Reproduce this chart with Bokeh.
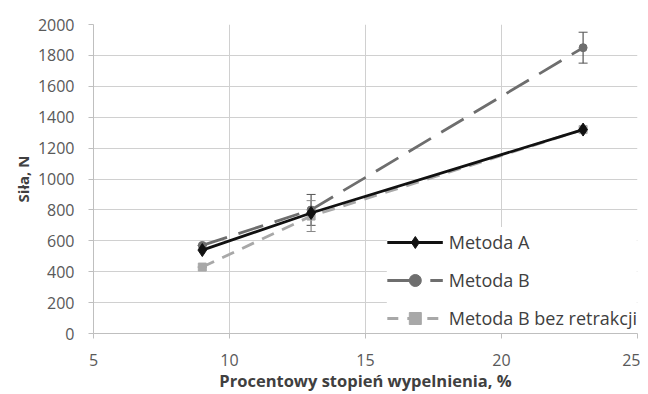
from bokeh.plotting import figure
from bokeh.models import ColumnDataSource, Whisker, Legend, LegendItem, Range1d, FixedTicker
from bokeh.embed import file_html
from bokeh.resources import INLINE

x_vals = [9, 13, 23]
metoda_a = [540, 780, 1320]
metoda_b = [570, 800, 1850]
metoda_b_err = [0, 100, 100]
metoda_b_bez = [430, 760, 1320]
metoda_b_bez_err = [0, 100, 0]

x_ticks = [5, 10, 15, 20, 25]
y_ticks = [0, 200, 400, 600, 800, 1000, 1200, 1400, 1600, 1800, 2000]

FONT = "Open Sans"

p = figure(width=640, height=394, output_backend="svg", toolbar_location=None,
           x_range=Range1d(5, 25), y_range=Range1d(0, 2000),
           min_border_left=93, min_border_right=3, min_border_top=24, min_border_bottom=59)
p.outline_line_color = None
p.background_fill_color = "white"

for ax in (p.xaxis[0], p.yaxis[0]):
    ax.axis_line_color = "#bfbfbf"
    ax.major_tick_line_color = "#bfbfbf"
    ax.major_tick_out = 5
    ax.major_tick_in = 0
    ax.minor_tick_line_color = None
    ax.major_label_text_font = FONT
    ax.major_label_text_font_size = "16px"
    ax.major_label_text_color = "#595959"
    ax.axis_label_text_font = FONT
    ax.axis_label_text_font_style = "bold"
    ax.axis_label_text_color = "#404040"

p.xaxis.axis_label_text_font_size = "16.5px"
p.yaxis.axis_label_text_font_size = "15px"
p.xaxis.ticker = FixedTicker(ticks=x_ticks)
p.yaxis.ticker = FixedTicker(ticks=y_ticks)
p.xaxis.axis_label = "Procentowy stopień wypelnienia, %"
p.yaxis.axis_label = "Siła, N"
p.xaxis.major_label_standoff = 15
p.xaxis.axis_label_standoff = 0
p.yaxis.major_label_standoff = 14
p.yaxis.axis_label_standoff = 2

p.xgrid.ticker = FixedTicker(ticks=x_ticks)
p.ygrid.ticker = FixedTicker(ticks=y_ticks)
p.grid.grid_line_color = "#d0d0d0"
p.grid.grid_line_width = 1

src_a = ColumnDataSource(dict(x=x_vals, y=metoda_a))
src_b = ColumnDataSource(dict(x=x_vals, y=metoda_b,
                              lo=[v - e for v, e in zip(metoda_b, metoda_b_err)],
                              hi=[v + e for v, e in zip(metoda_b, metoda_b_err)]))
src_c = ColumnDataSource(dict(x=x_vals, y=metoda_b_bez,
                              lo=[v - e for v, e in zip(metoda_b_bez, metoda_b_bez_err)],
                              hi=[v + e for v, e in zip(metoda_b_bez, metoda_b_bez_err)]))

c_a = "#111111"
c_b = "#6e6e6e"
c_c = "#a8a8a8"

lc = p.line("x", "y", source=src_c, line_color=c_c, line_width=2.8, line_dash="13 9")
sc = p.scatter("x", "y", source=src_c, marker="square", size=8, fill_color=c_c, line_color=c_c)
lb = p.line("x", "y", source=src_b, line_color=c_b, line_width=2.8, line_dash="26 12")
sb = p.scatter("x", "y", source=src_b, marker="circle", size=8, fill_color=c_b, line_color=c_b)
la = p.line("x", "y", source=src_a, line_color=c_a, line_width=2.8)
sa = p.scatter("x", "y", source=src_a, marker="diamond", size=13, fill_color=c_a, line_color=c_a)

wb = Whisker(source=src_b, base="x", upper="hi", lower="lo", line_color="#555555", line_width=1.2)
wb.upper_head.line_color = "#555555"
wb.lower_head.line_color = "#555555"
wb.upper_head.size = 9
wb.lower_head.size = 9
p.add_layout(wb)
wc = Whisker(source=src_c, base="x", upper="hi", lower="lo", line_color="#888888", line_width=1.2)
wc.upper_head.line_color = "#888888"
wc.lower_head.line_color = "#888888"
wc.upper_head.size = 9
wc.lower_head.size = 9
p.add_layout(wc)

# legend-only renderers (placed outside the visible range) with smaller markers
off_x = [-10, -9]
off_y = [-100, -100]
la_l = p.line(off_x, off_y, line_color=c_a, line_width=2.8)
sa_l = p.scatter(off_x, off_y, marker="diamond", size=9, fill_color=c_a, line_color=c_a)
lb_l = p.line(off_x, off_y, line_color=c_b, line_width=2.8, line_dash="31 12")
sb_l = p.scatter(off_x, off_y, marker="circle", size=7, fill_color=c_b, line_color=c_b)
lc_l = p.line(off_x, off_y, line_color=c_c, line_width=2.8, line_dash="11 9")
sc_l = p.scatter(off_x, off_y, marker="square", size=7, fill_color=c_c, line_color=c_c)

legend = Legend(items=[
    LegendItem(label="Metoda A", renderers=[la_l, sa_l]),
    LegendItem(label="Metoda B", renderers=[lb_l, sb_l]),
    LegendItem(label="Metoda B bez retrakcji", renderers=[lc_l, sc_l]),
], location="bottom_right")
legend.background_fill_color = "white"
legend.background_fill_alpha = 1.0
legend.border_line_color = None
legend.label_text_font = FONT
legend.label_text_font_size = "18px"
legend.label_text_color = "#404040"
legend.glyph_width = 56
legend.glyph_height = 30
legend.spacing = 8
legend.padding = 1
legend.margin = 0
legend.label_standoff = 6
p.add_layout(legend)

open("out.html", "w").write(file_html(p, INLINE))
